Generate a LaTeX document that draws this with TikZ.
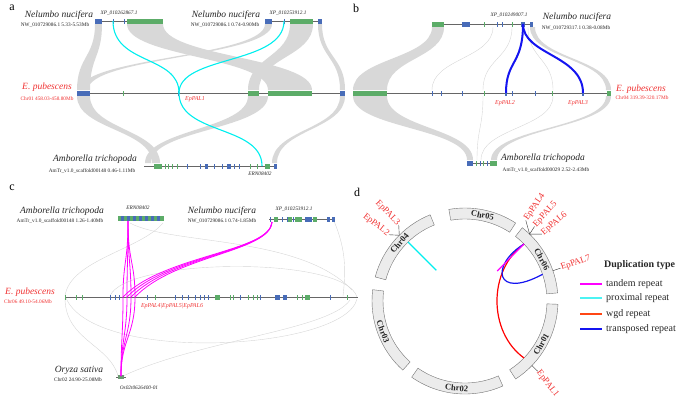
\documentclass[tikz,border=0pt]{standalone}
\usepackage{fontspec}
\setmainfont{Liberation Serif}
\definecolor{gcol}{RGB}{92,172,104}
\definecolor{bcol}{RGB}{72,108,184}
\definecolor{ribc}{RGB}{216,216,216}
\definecolor{epred}{RGB}{240,50,50}
\definecolor{cyanl}{RGB}{0,238,238}
\definecolor{magl}{RGB}{255,0,255}
\definecolor{blul}{RGB}{20,20,240}
\definecolor{wgdc}{RGB}{255,70,20}
\definecolor{chrf}{RGB}{236,236,236}
\newcommand{\GBx}[3]{\fill[gcol] (#1,{#3-2.5}) rectangle (#2,{#3+2.5});}
\newcommand{\BBx}[3]{\fill[bcol] (#1,{#3-2.5}) rectangle (#2,{#3+2.5});}
\newcommand{\GTk}[2]{\fill[gcol] ({#1-0.5},{#2-2.5}) rectangle ({#1+0.5},{#2+2.5});}
\newcommand{\BTk}[2]{\fill[bcol] ({#1-0.5},{#2-2.5}) rectangle ({#1+0.5},{#2+2.5});}
\newcommand{\Rib}[6]{\fill[ribc] (#1,#3) .. controls (#1,{(#3+#6)/2}) and (#4,{(#3+#6)/2}) .. (#4,#6) -- (#5,#6) .. controls (#5,{(#3+#6)/2}) and (#2,{(#3+#6)/2}) .. (#2,#3) -- cycle;}
\newcommand{\Lnk}[4]{\draw[lnk] (#1,#2) .. controls (#1,{(#2+#4)/2}) and (#3,{(#2+#4)/2}) .. (#3,#4);}
\tikzset{
  sp/.style={font=\rmfamily\fontsize{9.5}{10}\selectfont\itshape, text=black!85, inner sep=0},
  sm/.style={font=\rmfamily\fontsize{5.3}{6}\selectfont, text=black!85, inner sep=0},
  smi/.style={font=\rmfamily\fontsize{5.3}{6}\selectfont\itshape, text=black!85, inner sep=0},
  rsp/.style={font=\rmfamily\fontsize{9.5}{10}\selectfont\itshape, text=epred, inner sep=0},
  rsm/.style={font=\rmfamily\fontsize{5.3}{6}\selectfont, text=epred, inner sep=0},
  genel/.style={font=\rmfamily\fontsize{6}{7}\selectfont\itshape, text=epred, inner sep=0},
  trk/.style={draw=black!60, line width=0.7pt},
  lnk/.style={draw=black!16, line width=0.4pt},
  plet/.style={font=\rmfamily\fontsize{12}{12}\selectfont, inner sep=0},
  chrbox/.style={fill=chrf, draw=black!55, line width=0.4pt},
  chrlab/.style={font=\rmfamily\fontsize{8.5}{9}\selectfont\bfseries, text=black!85, inner sep=0},
  dlab/.style={font=\rmfamily\fontsize{9}{10}\selectfont, text=epred, inner sep=0.5pt},
  leader/.style={draw=black!80, line width=0.4pt},
  legt/.style={font=\rmfamily\fontsize{10}{11}\selectfont, text=black!85, inner sep=0, anchor=west},
  magline/.style={draw=magl, line width=0.8pt},
}
\begin{document}
\begin{tikzpicture}[x=1pt,y=-1pt]
\useasboundingbox (0,0) rectangle (685,400);
%================ panel a ================
\node[plet] (la) at (12,8) {a};
\Rib{95}{102}{24}{77}{90}{90}
\Rib{265}{272}{24}{80}{88}{90}
\Rib{127}{163}{24}{268}{312}{90}
\Rib{290}{313}{24}{248}{259}{90}
\Rib{318}{322}{24}{340}{345}{90}
\Rib{77}{90}{96}{152}{160}{163}
\Rib{248}{268}{96}{145}{151}{163}
\Rib{340}{345}{96}{272}{277}{163}
% tracks
\draw[trk] (95,21) -- (163,21);
\draw[trk] (265,21) -- (322,21);
\BBx{95}{102}{21} \BTk{113}{21} \BTk{124}{21} \GBx{127}{163}{21}
\BBx{265}{272}{21} \BTk{284}{21} \GBx{290}{313}{21} \BBx{318}{322}{21}
\draw[trk] (77,93) -- (345,93);
\BBx{77}{90}{93} \GTk{123}{93} \BTk{178}{93} \GBx{248}{259}{93} \GBx{268}{312}{93} \BBx{340}{345}{93}
\draw[trk] (144,166) -- (277,166);
\GBx{154}{162}{166}
\foreach \t in {165,168,172,177,250,257} {\GTk{\t}{166}}
\foreach \t in {187,200,214,222,234,239} {\BTk{\t}{166}}
\BBx{205}{208}{166} \BBx{227}{231}{166} \GBx{265}{270}{166} \BBx{274}{277}{166}
% cyan links
\draw[cyanl, line width=1.1pt] (113,21) .. controls (113,65) and (179,55) .. (179,93);
\draw[cyanl, line width=1.1pt] (284,21) .. controls (284,65) and (179,55) .. (179,93);
\draw[cyanl, line width=1.1pt] (179,93) .. controls (179,135) and (262,125) .. (262,166);
% labels
\node[sp] (a1) at (59,15) {Nelumbo nucifera};
\node[sm] (a2) at (55,25) {NW\_010729086.1 5.33-5.53Mb};
\node[smi] (a3) at (119,13) {XP\_010262867.1};
\node[sp] (a4) at (226,15) {Nelumbo nucifera};
\node[sm] (a5) at (225,25) {NW\_010729086.1 0.74-0.90Mb};
\node[smi] (a6) at (288,13) {XP\_010253912.1};
\node[rsp] (a7) at (47,87) {E. pubescens};
\node[rsm] (a8) at (47,99) {Chr01 458.03-458.80Mb};
\node[genel] (a9) at (195,99) {EpPAL1};
\node[sp] (a10) at (95,159) {Amborella trichopoda};
\node[sm] (a11) at (92,171) {AmTr\_v1.0\_scaffold00148 0.46-1.11Mb};
\node[smi] (a12) at (260,174) {ERN08402};
%================ panel b ================
\node[plet] (lb) at (356,8) {b};
\Rib{432}{444}{27}{353}{387}{90}
\Rib{353}{387}{96}{467}{473}{160}
\Rib{530}{535}{27}{606}{611}{90}
\Rib{606}{611}{96}{491}{497}{160}
\Lnk{493}{27}{432}{90}
\Lnk{512}{27}{483}{90}
\Lnk{528}{27}{553}{90}
\Lnk{483}{96}{477}{160}
\Lnk{553}{96}{481}{160}
\draw[trk] (432,24) -- (533,24);
\GBx{432}{444}{24} \BBx{462}{470}{24} \GTk{484}{24} \BTk{497}{24} \BTk{502}{24} \GTk{512}{24} \BBx{521}{525}{24} \BBx{530}{533}{24}
\draw[trk] (353,93) -- (611,93);
\GBx{353}{387}{93}
\foreach \t in {432,441,462,512,535} {\BTk{\t}{93}}
\foreach \t in {484,552} {\GTk{\t}{93}}
\BBx{505}{507}{93} \BBx{582}{584}{93} \GBx{607}{611}{93}
\draw[trk] (467,163) -- (497,163);
\BBx{467}{473}{163} \GTk{476}{163} \BTk{480}{163} \GTk{483}{163} \BTk{487}{163} \GBx{490}{497}{163}
\draw[blul, line width=2pt] (523,24) .. controls (523,65) and (506,60) .. (506,93);
\draw[blul, line width=2pt] (523,24) .. controls (523,55) and (583,55) .. (583,93);
\node[smi] (b1) at (509,15) {XP\_010249007.1};
\node[sp] (b2) at (577,17) {Nelumbo nucifera};
\node[sm] (b3) at (576,28) {NW\_010729317.1 0.38-0.08Mb};
\node[rsp] (b4) at (641,89) {E. pubescens};
\node[rsm] (b5) at (642,98) {Chr04 319.39-320.17Mb};
\node[genel] (b6) at (505,103) {EpPAL2};
\node[genel] (b7) at (578,103) {EpPAL3};
\node[sp] (b8) at (543,158) {Amborella trichopoda};
\node[sm] (b9) at (546,170) {AmTr\_v1.0\_scaffold00029 2.52-2.43Mb};
%================ panel c ================
\node[plet] (lc) at (12,188) {c};
\draw[lnk] (163,223) .. controls (140,250) and (70,260) .. (65,296);
\draw[lnk] (65,298) .. controls (65,340) and (110,345) .. (118,376);
\draw[lnk] (110,296) .. controls (125,258) and (345,255) .. (357,297);
\draw[lnk] (66,298) .. controls (95,365) and (345,350) .. (357,299);
\draw[lnk] (123,376) .. controls (200,340) and (330,330) .. (350,300);
\draw[lnk] (334,221) .. controls (346,250) and (346,270) .. (343,296);
\draw[lnk] (130,223) .. controls (170,245) and (300,235) .. (352,290);
\draw[trk] (118,218) -- (164,218);
\GBx{118}{164}{218}
\foreach \t in {121,127,133,139,145,151,157} {\BBx{\t}{\t+2.5}{218}}
\draw[trk] (269,219) -- (335,219);
\BTk{270}{219} \GBx{274}{278}{219} \BTk{282}{219} \BTk{287}{219} \GBx{288}{292}{219} \BTk{293}{219}
\GBx{295}{302}{219} \BBx{305}{312}{219} \GBx{313}{317}{219} \BBx{327}{330}{219} \BBx{332}{335}{219}
\draw[trk] (65,297) -- (358,297);
\foreach \t in {65,76,82,155,230,233,248,253,257,297,302,347} {\GTk{\t}{297}}
\foreach \t in {110,115,119,147,175,182,188,195,200,204,208,240,260,330} {\BTk{\t}{297}}
\GBx{215}{220}{297} \BBx{275}{280}{297} \BBx{283}{287}{297} \GBx{305}{310}{297}
\draw[trk] (116,377) -- (126,377);
\fill[gcol!60!gray] (118,375) rectangle (124,379);
\foreach \e in {123,127,131,135} {
  \draw[magline] (128,221) .. controls (128,262) and (\e,262) .. (\e,297);
  \draw[magline] (272,222) .. controls (270,252) and ({\e+40},255) .. (\e,297);
  \draw[magline] (\e,297) .. controls (\e,335) and (121,340) .. (121,376);
}
\node[sp] (c1) at (62,211) {Amborella trichopoda};
\node[sm] (c2) at (60,221) {AmTr\_v1.0\_scaffold00148 1.26-1.40Mb};
\node[smi] (c3) at (138,208) {ERN08402};
\node[sp] (c4) at (222,211) {Nelumbo nucifera};
\node[sm] (c5) at (222,221) {NW\_010729086.1 0.74-1.85Mb};
\node[smi] (c6) at (294,209) {XP\_010253912.1};
\node[rsp] (c7) at (30,292) {E. pubescens};
\node[rsm] (c8) at (28,302) {Chr06 49.10-54.06Mb};
\node[genel] (c9) at (172,306) {EpPAL4|EpPAL5|EpPAL6};
\node[sp] (c10) at (79,370) {Oryza sativa};
\node[sm] (c11) at (78,380) {Chr02 24.90-25.08Mb};
\node[smi] (c12) at (139,388) {Os02t0626400-01};
%================ panel d ================
\node[plet] (ld) at (357,192) {d};
\begin{scope}[shift={(465,301)}, y=1pt]
  \foreach \aa/\ab/\nm/\rt in {57/100/Chr05/-11.5, 5/52/Chr06/-61.5, -57/-2/Chr01/60.5, -125/-66/Chr02/-5.5, 173/228/Chr03/-69.5, 112/165/Chr04/48.5} {
    \filldraw[chrbox] (\aa:82) arc[start angle=\aa, end angle=\ab, radius=82] -- (\ab:93) arc[start angle=\ab, end angle=\aa, radius=93] -- cycle;
    \node[chrlab, rotate=\rt] (n\nm) at ({(\aa+\ab)/2}:87.5) {\nm};
  }
  \draw[red, line width=1.2pt] (44:82) .. controls (23,31) and (23,-31) .. (-44:82);
  \draw[blul, line width=1.2pt] (44:82) .. controls (25,36) and (30,1) .. (19:82);
  \draw[magl, line width=1.2pt] (44:82) -- (43:44);
  \draw[cyanl, line width=1.2pt] (134:82) -- (133:42);
  \coordinate (p1) at (-44:93); \coordinate (q1) at (-44:101);
  \draw[leader] (p1) -- (q1);
  \node[dlab, anchor=west, rotate=-52] (t1) at (q1) {EpPAL1};
  \coordinate (p7) at (19:93); \coordinate (q7) at (19:101);
  \draw[leader] (p7) -- (q7);
  \node[dlab, anchor=west, rotate=19] (t7) at (q7) {EpPAL7};
  \coordinate (p4) at (46:93);
  \coordinate (q4) at (53:101); \coordinate (q5) at (47:102); \coordinate (q6) at (41:102);
  \draw[leader] (p4) -- (q4); \draw[leader] (p4) -- (q5); \draw[leader] (p4) -- (q6);
  \node[dlab, anchor=west, rotate=56] (t4) at (q4) {EpPAL4};
  \node[dlab, anchor=west, rotate=48] (t5) at (q5) {EpPAL5};
  \node[dlab, anchor=west, rotate=40] (t6) at (q6) {EpPAL6};
  \coordinate (p2) at (135:93);
  \coordinate (q3) at (131:101); \coordinate (q2) at (139:101);
  \draw[leader] (p2) -- (q3); \draw[leader] (p2) -- (q2);
  \node[dlab, anchor=east, rotate=-46] (t3) at (q3) {EpPAL3};
  \node[dlab, anchor=east, rotate=-38] (t2) at (q2) {EpPAL2};
\end{scope}
% legend
\node[legt, font=\rmfamily\fontsize{10}{11}\selectfont\bfseries] (lg0) at (604,265) {Duplication type};
\coordinate (g1a) at (580,284); \coordinate (g1b) at (602,284);
\coordinate (g2a) at (580,298); \coordinate (g2b) at (602,298);
\coordinate (g3a) at (580,314); \coordinate (g3b) at (602,314);
\coordinate (g4a) at (580,329); \coordinate (g4b) at (602,329);
\draw[magl, line width=2pt] (g1a) -- (g1b);
\draw[cyanl!70!white, line width=2pt] (g2a) -- (g2b);
\draw[wgdc, line width=2pt] (g3a) -- (g3b);
\draw[blul, line width=2pt] (g4a) -- (g4b);
\node[legt] (lg1) at (606,284) {tandem repeat};
\node[legt] (lg2) at (606,298) {proximal repeat};
\node[legt] (lg3) at (606,314) {wgd repeat};
\node[legt] (lg4) at (606,329) {transposed repeat};
\end{tikzpicture}
\end{document}
